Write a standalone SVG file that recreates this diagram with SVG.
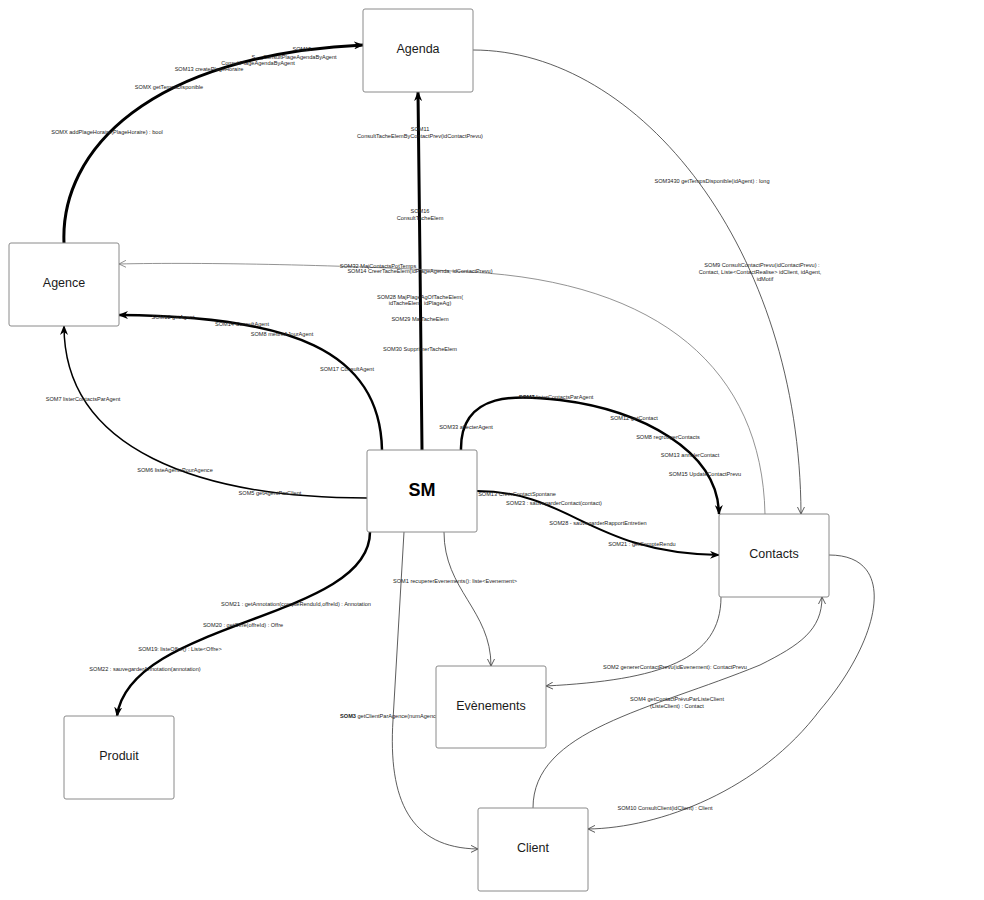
<svg xmlns="http://www.w3.org/2000/svg" width="984" height="900" viewBox="0 0 984 900">
<style>
.box{fill:#fff;stroke:#8a8a8a;stroke-width:1}
.nt{font-family:"Liberation Sans",Arial,sans-serif;font-size:12.5px;fill:#1a1a1a;text-anchor:middle;dominant-baseline:central}
.big{font-size:18px;font-weight:bold;fill:#000}
.lb{font-family:"Liberation Sans",Arial,sans-serif;font-size:5.6px;fill:#222;text-anchor:middle}
.th{fill:none;stroke:#000}
.tn{fill:none;stroke:#333;stroke-width:0.8}
.tg{fill:none;stroke:#777;stroke-width:0.8}
</style>
<defs>
<marker id="af" markerWidth="10" markerHeight="8" refX="9" refY="4" orient="auto" markerUnits="userSpaceOnUse"><path d="M0,0 L10,4 L0,8 L3,4 z" fill="#000"/></marker>
<marker id="ao" markerWidth="8" markerHeight="8" refX="7" refY="4" orient="auto" markerUnits="userSpaceOnUse"><path d="M0,0.5 L7,4 L0,7.5" fill="none" stroke="#333" stroke-width="0.8"/></marker>
<marker id="ag" markerWidth="8" markerHeight="8" refX="7" refY="4" orient="auto" markerUnits="userSpaceOnUse"><path d="M0,0.5 L7,4 L0,7.5" fill="none" stroke="#777" stroke-width="0.8"/></marker>
</defs>
<rect width="984" height="900" fill="#fff"/>
<g id="connectors">
<path class="th" stroke-width="3" d="M64,243 C 60,150 150,55 363,45" marker-end="url(#af)"/>
<path class="th" stroke-width="3" d="M422,450 L420,262 L418,92" marker-end="url(#af)"/>
<path class="tg" d="M765,514 C 762,370 660,282 470,272 C 350,265 200,262 119,264" marker-end="url(#ag)"/>
<path class="tn" d="M473,50 C 640,50 800,250 801,514" marker-end="url(#ao)"/>
<path class="th" stroke-width="2.5" d="M382,450 C 380,350 290,316 119,315" marker-end="url(#af)"/>
<path class="th" stroke-width="1.5" d="M367,498 C 200,498 64,450 64,326" marker-end="url(#af)"/>
<path class="th" stroke-width="2.5" d="M461,450 C 460,390 520,395 560,400 C 640,410 718,450 719,514" marker-end="url(#af)"/>
<path class="th" stroke-width="2" d="M477,491 C 570,491 590,553 719,555" marker-end="url(#af)"/>
<path class="th" stroke-width="2.5" d="M370,532 C 370,620 130,620 117,716" marker-end="url(#af)"/>
<path class="tn" d="M444,532 C 444,590 491,610 491,666" marker-end="url(#ao)"/>
<path class="tn" d="M404,532 L393,720 C 388,800 410,848 478,849" marker-end="url(#ao)"/>
<path class="tn" d="M721,597 C 721,660 660,680 546,686" marker-end="url(#ao)"/>
<path class="tn" d="M533,808 C 533,730 650,710 760,665 C 800,645 822,630 822,597" marker-end="url(#ao)"/>
<path class="tn" d="M829,555 C 900,555 880,640 820,710 C 760,790 660,828 588,829" marker-end="url(#ao)"/>
</g>
<g id="labels">
<text class="lb" x="302" y="51">SOM15</text>
<text class="lb" x="294" y="59">S..  _ConsultPlageAgendaByAgent</text>
<text class="lb" x="258" y="65">ConsultPlageAgendaByAgent</text>
<text class="lb" x="209" y="71">SOM13 createPlageHoraire</text>
<text class="lb" x="169" y="89">SOMX getTempsDisponible</text>
<text class="lb" x="107" y="134">SOMX addPlageHoraire(PlageHoraire) : bool</text>
<text class="lb" x="420" y="131">SOM11</text>
<text class="lb" x="420" y="138">ConsultTacheElemByContactPrev(idContactPrevu)</text>
<text class="lb" x="420" y="213">SOM16</text>
<text class="lb" x="420" y="220">ConsultTacheElem</text>
<text class="lb" x="378" y="268">SOM32 MajContactsPotTemps</text>
<text class="lb" x="420" y="273">SOM14 CreerTacheElem(idPlageAgenda, idContactPrevu)</text>
<text class="lb" x="420" y="299">SOM28 MajPlageAgOfTacheElem(</text>
<text class="lb" x="420" y="305">idTacheElem, idPlageAg)</text>
<text class="lb" x="420" y="321">SOM29 MajTacheElem</text>
<text class="lb" x="420" y="351">SOM30 SupprimerTacheElem</text>
<text class="lb" x="712" y="183">SOM3430 getTempsDisponible(idAgent) : long</text>
<text class="lb" x="762" y="267">SOM9 ConsultContactPrevu(idContactPrevu) :</text>
<text class="lb" x="760" y="274">Contact, Liste&lt;ContactRealise&gt; idClient, idAgent,</text>
<text class="lb" x="765" y="281">idMotif</text>
<text class="lb" x="173" y="319">SOM12 getAgent</text>
<text class="lb" x="242" y="326">SOM14 ConsultAgent</text>
<text class="lb" x="282" y="336">SOM8 mettreAJourAgent</text>
<text class="lb" x="347" y="371">SOM17 ConsultAgent</text>
<text class="lb" x="83" y="401">SOM7 listerContactsParAgent</text>
<text class="lb" x="175" y="472">SOM6 listeAgentsPourAgence</text>
<text class="lb" x="270" y="495">SOM5 getAgentParClient</text>
<text class="lb" x="466" y="429">SOM33 affecterAgent</text>
<text class="lb" x="556" y="399"><tspan font-weight="bold">SOM7</tspan> listerContactsParAgent</text>
<text class="lb" x="634" y="420">SOM12 getContact</text>
<text class="lb" x="668" y="439">SOM8 regrouperContacts</text>
<text class="lb" x="690" y="457">SOM13 annulerContact</text>
<text class="lb" x="705" y="476">SOM15 UpdateContactPrevu</text>
<text class="lb" x="517" y="496">SOM13 CreerContactSpontane</text>
<text class="lb" x="554" y="505">SOM23 : sauvegarderContact(contact)</text>
<text class="lb" x="598" y="525">SOM28 - sauvegarderRapportEntretien</text>
<text class="lb" x="642" y="546">SOM21 : getCompteRendu</text>
<text class="lb" x="296" y="606">SOM21 : getAnnotation(compteRenduId,offreId) : Annotation</text>
<text class="lb" x="243" y="627">SOM20 : getOffre(offreId) : Offre</text>
<text class="lb" x="180" y="651">SOM19: listeOffre() : Liste&lt;Offre&gt;</text>
<text class="lb" x="145" y="671">SOM22 : sauvegarderAnnotation(annotation)</text>
<text class="lb" x="455" y="583">SOM1 recupererEvenements(): liste&lt;Evenement&gt;</text>
<text class="lb" x="392" y="718"><tspan font-weight="bold">SOM3</tspan> getClientParAgence(numAgence) :</text>
<text class="lb" x="675" y="669">SOM2 genererContactPrevu(idEvenement): ContactPrevu</text>
<text class="lb" x="677" y="701">SOM4 getContactPrévuParListeClient</text>
<text class="lb" x="677" y="708">(ListeClient) : Contact</text>
<text class="lb" x="665" y="810">SOM10 ConsultClient(idClient) : Client</text>
</g>
<g id="agenda"><rect class="box" x="363" y="9" width="110" height="83" rx="2"/><text class="nt" x="418" y="49">Agenda</text></g>
<g id="agence"><rect class="box" x="9" y="243" width="110" height="83" rx="2"/><text class="nt" x="64" y="283">Agence</text></g>
<g id="sm"><rect class="box" x="367" y="450" width="110" height="82" rx="2"/><text class="nt big" x="422" y="490">SM</text></g>
<g id="contacts"><rect class="box" x="719" y="514" width="110" height="83" rx="2"/><text class="nt" x="774" y="554">Contacts</text></g>
<g id="evenements"><rect class="box" x="436" y="666" width="110" height="82" rx="2"/><text class="nt" x="491" y="706">Evènements</text></g>
<g id="produit"><rect class="box" x="64" y="716" width="110" height="83" rx="2"/><text class="nt" x="119" y="756">Produit</text></g>
<g id="client"><rect class="box" x="478" y="808" width="110" height="83" rx="2"/><text class="nt" x="533" y="848">Client</text></g>
</svg>
